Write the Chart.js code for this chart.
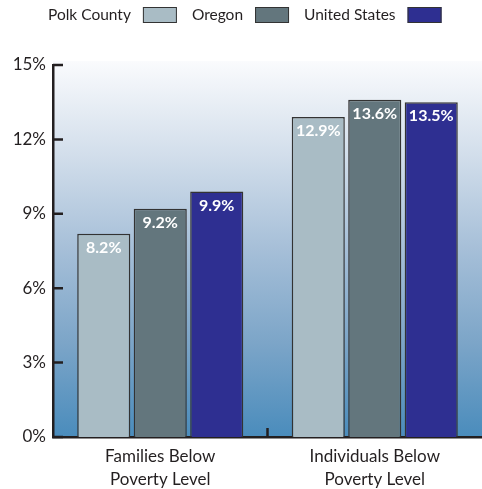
<!DOCTYPE html>
<html>
<head>
<meta charset="utf-8">
<script src="https://cdn.jsdelivr.net/npm/chart.js@4.4.1/dist/chart.umd.min.js"></script>
<style>
  html, body { margin: 0; padding: 0; background: #fff; }
  #wrap { width: 482px; height: 489px; position: relative; }
</style>
</head>
<body>
<div id="wrap"><canvas id="chart" width="482" height="489"></canvas></div>
<script>
const categories = [['Families Below', 'Poverty Level'], ['Individuals Below', 'Poverty Level']]
const seriesNames = ['Polk County', 'Oregon', 'United States']
const polkCounty = [8.2, 12.9]
const oregon = [9.2, 13.6]
const unitedStates = [9.9, 13.5]
const yTicks = [0, 3, 6, 9, 12, 15]

const colors = ['#a9bcc5', '#63767d', '#2e2f91']
const fontFamily = 'Lato, "Open Sans", sans-serif'
const ink = '#231f20'

// blue wash behind the bars, light at the top
const backdrop = {
  id: 'backdrop',
  beforeDraw(chart) {
    const { ctx, chartArea: a } = chart
    const g = ctx.createLinearGradient(0, a.top - 4, 0, a.bottom)
    g.addColorStop(0, '#fafbfd')
    g.addColorStop(0.25, '#d2deeb')
    g.addColorStop(0.5, '#a6bfd8')
    g.addColorStop(0.75, '#7ca5c8')
    g.addColorStop(1, '#4a8cbc')
    ctx.save()
    ctx.fillStyle = g
    ctx.fillRect(a.left, a.top - 4, a.right - a.left + 2, a.bottom - a.top + 4)
    ctx.restore()
  }
}

// short inward ticks on the value axis and between the groups
const innerTicks = {
  id: 'innerTicks',
  afterDatasetsDraw(chart) {
    const { ctx, chartArea: a, scales } = chart
    ctx.save()
    ctx.strokeStyle = ink
    ctx.lineWidth = 2.5
    ctx.beginPath()
    scales.y.ticks.forEach(t => {
      const y = scales.y.getPixelForValue(t.value)
      ctx.moveTo(a.left, y)
      ctx.lineTo(a.left + 10, y)
    })
    const mid = (scales.x.getPixelForValue(0) + scales.x.getPixelForValue(1)) / 2
    ctx.moveTo(mid, a.bottom)
    ctx.lineTo(mid, a.bottom - 9)
    ctx.stroke()
    ctx.restore()
  }
}

// value labels inside the top of each bar
const barLabels = {
  id: 'barLabels',
  afterDatasetsDraw(chart) {
    const { ctx } = chart
    ctx.save()
    ctx.fillStyle = '#ffffff'
    ctx.font = 'bold 16px ' + fontFamily
    ctx.textAlign = 'center'
    ctx.textBaseline = 'middle'
    chart.data.datasets.forEach((ds, i) => {
      chart.getDatasetMeta(i).data.forEach((bar, j) => {
        ctx.fillText(ds.data[j].toFixed(1) + '%', bar.x, bar.y + 14)
      })
    })
    ctx.restore()
  }
}

// legend with the name first and the swatch after it
const topLegend = {
  id: 'topLegend',
  afterDraw(chart) {
    const { ctx } = chart
    ctx.save()
    ctx.font = '15.5px ' + fontFamily
    ctx.textBaseline = 'middle'
    const y = 15
    let x = 48
    chart.data.datasets.forEach(ds => {
      ctx.fillStyle = ink
      ctx.fillText(ds.label, x, y)
      x += ctx.measureText(ds.label).width + 12
      ctx.fillStyle = ds.backgroundColor
      ctx.fillRect(x, y - 8, 34, 16)
      ctx.strokeStyle = '#333'
      ctx.lineWidth = 1
      ctx.strokeRect(x + 0.5, y - 7.5, 33, 15)
      x += 34 + 15
    })
    ctx.restore()
  }
}

new Chart(document.getElementById('chart').getContext('2d'), {
  type: 'bar',
  data: {
    labels: categories,
    datasets: [polkCounty, oregon, unitedStates].map((values, i) => ({
      label: seriesNames[i],
      data: values,
      backgroundColor: colors[i],
      borderColor: '#333',
      borderWidth: 1.5,
      categoryPercentage: 0.79,
      barPercentage: 0.94
    }))
  },
  options: {
    responsive: false,
    animation: false,
    layout: { padding: { top: 65, right: 0, left: 0, bottom: 0 } },
    plugins: {
      legend: { display: false },
      tooltip: { enabled: false }
    },
    scales: {
      x: {
        grid: { display: false, drawTicks: false },
        border: { display: true, color: ink, width: 2.5 },
        ticks: {
          color: ink,
          font: { family: fontFamily, size: 17, lineHeight: 1.35 },
          padding: 8,
          maxRotation: 0
        },
        afterFit(scale) { scale.height = 52 }
      },
      y: {
        min: 0,
        max: 15,
        afterBuildTicks(scale) { scale.ticks = yTicks.map(v => ({ value: v })) },
        grid: { display: false, drawTicks: false },
        border: { display: true, color: ink, width: 2.5 },
        ticks: {
          color: ink,
          font: { family: fontFamily, size: 17 },
          padding: 7,
          callback: v => v + '%'
        },
        afterFit(scale) { scale.width = 53 }
      }
    }
  },
  plugins: [backdrop, innerTicks, barLabels, topLegend]
})
</script>
</body>
</html>
